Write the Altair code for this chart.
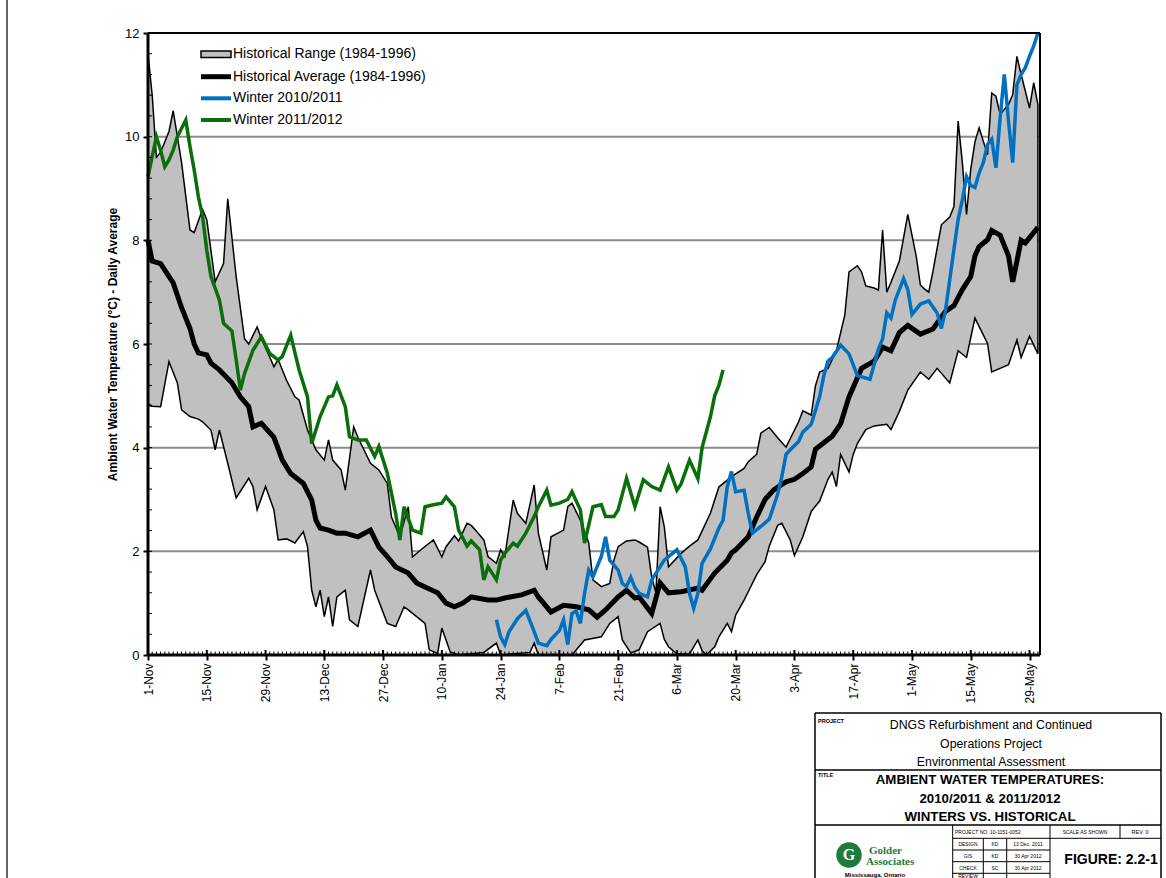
import altair as alt
import pandas as pd

# ---------------- data ----------------
# day = days after 1-Nov (leap-year season), value = deg C
MAX_DAY = [0, 1, 2, 3, 5, 6, 8, 10, 11, 13, 14, 16, 18, 19, 21, 23, 24, 26, 27, 29, 30, 31, 33, 35, 36, 38, 40, 42, 43, 44,
           46, 47, 49, 50, 53, 55, 57, 58, 60, 62, 63, 65, 68, 70, 71, 73, 74, 76, 77, 78, 80, 81, 83, 84, 85, 87, 88, 90,
           92, 93, 95, 96, 99, 100, 101, 103, 105, 106, 108, 110, 111, 112, 114, 116, 117, 119, 120, 121, 122, 123, 124,
           127, 129, 131, 134, 136, 139, 142, 143, 145, 146, 148, 150, 152, 155, 156, 158, 159, 160, 162, 164, 166, 167,
           169, 170, 171, 173, 174, 175, 176, 177, 179, 181, 183, 184, 185, 186, 187, 189, 191, 192, 193, 194, 195, 196,
           197, 198, 200, 201, 202, 203, 205, 206, 207, 208, 209, 210, 211, 212]
MAX_VAL = [11.6, 10.8, 9.6, 9.7, 10.1, 10.5, 9.5, 8.2, 8.15, 8.6, 8.4, 7.2, 7.55, 8.8, 7.3, 6.1, 6.0, 6.33, 6.1, 5.75, 5.56,
           5.7, 5.3, 4.98, 4.92, 4.34, 3.96, 3.76, 4.15, 3.76, 3.57, 3.18, 4.4, 4.2, 3.7, 3.57, 3.31, 2.66, 2.28, 2.86, 1.89,
           2.03, 2.22, 1.89, 2.09, 2.3, 2.2, 2.54, 2.5, 2.41, 2.22, 1.9, 1.77, 2.03, 1.9, 2.99, 2.73, 2.54, 3.28, 2.35, 1.64,
           2.28, 2.41, 2.86, 2.93, 2.6, 2.16, 1.45, 1.32, 1.38, 1.83, 2.09, 2.2, 2.22, 2.18, 2.08, 1.5, 1.2, 2.86, 2.47, 1.7,
           1.96, 2.1, 2.22, 2.74, 3.24, 3.44, 3.6, 3.73, 3.87, 4.28, 4.39, 4.19, 4.01, 4.5, 4.71, 4.63, 5.19, 5.46, 5.53,
           5.87, 6.56, 7.39, 7.51, 7.39, 7.12, 7.08, 7.04, 8.2, 7.0, 7.19, 7.6, 8.5, 7.7, 7.14, 7.06, 7.0, 7.4, 8.3, 8.45,
           8.65, 10.3, 9.5, 8.5, 9.37, 9.9, 10.17, 9.65, 10.84, 10.78, 10.43, 10.62, 10.81, 11.55, 11.2, 10.88, 10.55,
           11.04, 10.62]

MIN_DAY = [0, 1, 3, 5, 7, 8, 10, 12, 13, 15, 16, 17, 19, 21, 24, 25, 26, 28, 30, 31, 33, 35, 37, 38, 39, 40, 41, 42, 43, 44,
           45, 47, 48, 50, 53, 54, 57, 59, 61, 62, 66, 67, 69, 70, 72, 74, 80, 83, 84, 91, 92, 93, 101, 104, 108, 110, 112,
           113, 115, 117, 119, 122, 123, 124, 126, 129, 131, 132, 133, 135, 136, 138, 139, 140, 142, 143, 145, 147, 148,
           150, 151, 153, 154, 156, 158, 160, 162, 163, 164, 165, 167, 168, 169, 171, 173, 176, 177, 179, 181, 184, 186,
           188, 191, 193, 195, 197, 200, 201, 203, 205, 207, 208, 210, 212]
MIN_VAL = [4.85, 4.8, 4.79, 5.66, 5.25, 4.73, 4.6, 4.55, 4.5, 4.34, 3.96, 4.34, 3.7, 3.03, 3.41, 3.25, 2.8, 3.25, 2.8, 2.22,
           2.24, 2.16, 2.38, 2.09, 1.25, 0.93, 1.25, 0.74, 1.12, 0.55, 1.12, 1.25, 0.68, 0.55, 1.64, 1.25, 0.61, 0.55, 0.93,
           0.87, 0.61, 0.1, 0.03, 0.52, 0.06, 0.0, 0.05, 0.23, 0.0, 0.05, 0.23, 0.0, 0.0, 0.29, 0.35, 0.61, 0.74, 0.29, 0.04,
           0.1, 0.45, 0.61, 0.3, 0.16, 0.02, 0.02, 0.29, 0.08, 0.0, 0.16, 0.35, 0.61, 0.45, 0.77, 1.06, 1.22, 1.55, 1.8,
           2.1, 2.5, 2.54, 2.22, 1.92, 2.28, 2.77, 2.97, 3.39, 3.53, 3.25, 3.87, 3.53, 3.87, 4.08, 4.35, 4.42, 4.45, 4.35,
           4.7, 5.11, 5.46, 5.32, 5.53, 5.25, 5.87, 5.74, 6.5, 6.01, 5.46, 5.53, 5.6, 6.08, 5.74, 6.15, 5.81]

AVG_DAY = [0, 1, 3, 6, 8, 10, 11, 12, 14, 15, 17, 20, 22, 24, 25, 27, 30, 32, 34, 37, 39, 40, 41, 43, 45, 47, 50, 53, 55,
           57, 59, 62, 64, 66, 69, 71, 73, 75, 77, 81, 83, 85, 89, 92, 93, 96, 99, 102, 105, 107, 109, 112, 114, 116, 117,
           120, 122, 124, 127, 131, 132, 135, 138, 139, 140, 143, 145, 147, 149, 151, 152, 154, 156, 158, 159, 163, 165,
           167, 170, 173, 175, 177, 179, 181, 184, 187, 190, 192, 194, 196, 197, 198, 200, 201, 203, 205, 206, 208, 209,
           211, 212]
AVG_VAL = [8.0, 7.6, 7.55, 7.18, 6.7, 6.3, 6.0, 5.83, 5.79, 5.63, 5.5, 5.25, 4.98, 4.79, 4.4, 4.47, 4.2, 3.76, 3.5, 3.31,
           2.99, 2.6, 2.45, 2.41, 2.35, 2.35, 2.28, 2.41, 2.08, 1.9, 1.7, 1.58, 1.39, 1.31, 1.2, 1.0, 0.93, 1.0, 1.12, 1.06,
           1.06, 1.1, 1.16, 1.25, 1.12, 0.83, 0.96, 0.93, 0.87, 0.73, 0.87, 1.12, 1.25, 1.1, 1.12, 0.8, 1.39, 1.2, 1.22,
           1.29, 1.25, 1.58, 1.83, 1.97, 2.03, 2.28, 2.66, 3.0, 3.18, 3.29, 3.34, 3.39, 3.5, 3.63, 3.97, 4.22, 4.46, 4.98,
           5.53, 5.67, 5.94, 5.87, 6.22, 6.36, 6.19, 6.29, 6.63, 6.74, 7.05, 7.3, 7.7, 7.88, 8.01, 8.19, 8.1, 7.7, 7.2,
           8.0, 7.95, 8.15, 8.25]

W1011_DAY = [83, 84, 85, 86, 88, 90, 92, 93, 95, 96, 98, 99, 100, 101, 102, 103, 104, 105, 106, 108, 109, 110, 112, 113,
             114, 115, 116, 117, 119, 120, 123, 124, 126, 128, 129, 130, 131, 132, 134, 136, 137, 138, 139, 140, 142,
             143, 144, 146, 148, 150, 151, 152, 153, 155, 156, 158, 160, 161, 162, 163, 165, 167, 169, 172, 174, 175,
             176, 177, 178, 180, 181, 182, 184, 186, 188, 189, 190, 192, 193, 194, 195, 196, 197, 198, 199, 200, 201,
             202, 203, 204, 205, 206, 207, 208, 209, 210, 211, 212]
W1011_VAL = [0.68, 0.35, 0.2, 0.45, 0.7, 0.86, 0.45, 0.23, 0.18, 0.3, 0.47, 0.68, 0.2, 0.8, 0.85, 0.61, 1.19, 1.64, 1.51,
             1.9, 2.28, 1.83, 1.64, 1.38, 1.32, 1.5, 1.3, 1.19, 1.12, 1.45, 1.83, 1.9, 2.03, 1.7, 1.19, 0.9, 1.19, 1.77,
             2.05, 2.45, 2.6, 3.25, 3.54, 3.15, 3.18, 2.73, 2.35, 2.48, 2.62, 3.1, 3.44, 3.87, 3.96, 4.12, 4.3, 4.45,
             4.98, 5.39, 5.67, 5.74, 5.98, 5.81, 5.39, 5.32, 5.9, 6.1, 6.6, 6.5, 6.84, 7.26, 7.05, 6.57, 6.77, 6.83, 6.6,
             6.3, 6.65, 7.83, 8.4, 8.78, 9.23, 9.06, 9.02, 9.3, 9.5, 9.85, 9.95, 9.4, 10.36, 11.2, 10.3, 9.5, 11.0, 11.2,
             11.33, 11.55, 11.75, 12.0]

W1112_DAY = [0, 2, 3, 4, 5, 6, 7, 9, 10, 11, 12, 13, 14, 15, 17, 18, 20, 21, 22, 23, 25, 27, 29, 31, 32, 34, 36, 38, 39,
             41, 43, 44, 45, 47, 48, 50, 52, 54, 55, 57, 59, 60, 61, 63, 65, 66, 68, 70, 71, 73, 74, 76, 77, 79, 80, 81,
             83, 84, 85, 87, 88, 90, 92, 93, 95, 96, 98, 100, 101, 103, 104, 106, 108, 109, 111, 112, 114, 116, 118, 120,
             122, 124, 126, 127, 129, 131, 132, 134, 135, 136, 137]
W1112_VAL = [9.23, 10.0, 9.74, 9.42, 9.55, 9.74, 10.0, 10.32, 9.81, 9.36, 8.84, 8.46, 7.81, 7.3, 6.85, 6.4, 6.25, 5.7,
             5.11, 5.43, 5.88, 6.14, 5.82, 5.69, 5.76, 6.17, 5.5, 4.98, 4.08, 4.6, 4.98, 5.0, 5.21, 4.79, 4.21, 4.15, 4.15,
             3.83, 4.02, 3.51, 2.73, 2.22, 2.86, 2.41, 2.35, 2.86, 2.9, 2.93, 3.05, 2.86, 2.41, 2.1, 2.2, 2.03, 1.45, 1.7,
             1.45, 1.83, 1.96, 2.16, 2.1, 2.35, 2.67, 2.86, 3.18, 2.89, 2.93, 3.0, 3.15, 2.8, 2.16, 2.86, 2.9, 2.67, 2.67,
             2.8, 3.41, 2.86, 3.38, 3.25, 3.18, 3.63, 3.18, 3.3, 3.76, 3.4, 4.0, 4.6, 5.0, 5.2, 5.5]

TICK_DAYS = [0, 14, 28, 42, 56, 70, 84, 98, 112, 126, 140, 154, 168, 182, 196, 210]
TICK_LABELS = ["1-Nov", "15-Nov", "29-Nov", "13-Dec", "27-Dec", "10-Jan", "24-Jan", "7-Feb", "21-Feb", "6-Mar",
               "20-Mar", "3-Apr", "17-Apr", "1-May", "15-May", "29-May"]
Y_TICKS = [0, 2, 4, 6, 8, 10, 12]
GRID_Y = [2, 4, 6, 8, 10]
MINOR_X = list(range(0, 213))
MINOR_Y = [round(i * 0.4, 1) for i in range(1, 30)]

LEGEND = ["Historical Range (1984-1996)", "Historical Average (1984-1996)", "Winter 2010/2011", "Winter 2011/2012"]
Y_TITLE = "Ambient Water Temperature (°C) - Daily Average"

# ---------------- layout ----------------
W, H = 892, 622
OX, OY = 148, 33
FONT = "Liberation Sans"
BLUE = "#0070C0"
GREEN = "#0A6E0A"
SILVER = "#C0C0C0"

xs = alt.Scale(domain=[0, 212.5], nice=False, zero=False)
ys = alt.Scale(domain=[0, 12], nice=False, zero=False)

label_expr = "''"
for d, s in reversed(list(zip(TICK_DAYS, TICK_LABELS))):
    label_expr = f"datum.value == {d} ? '{s}' : ({label_expr})"

x_axis = alt.Axis(values=TICK_DAYS, labelExpr=label_expr, labelAngle=270, labelFontSize=12, labelFont=FONT,
                  labelColor="black", labelPadding=3, tickSize=5, tickWidth=2, tickColor="black",
                  domain=False, grid=False, title=None, zindex=1, labelOverlap=False)
y_axis = alt.Axis(values=Y_TICKS, labelFontSize=13, labelFont=FONT, labelColor="black", labelPadding=4,
                  tickSize=5, tickWidth=2, tickColor="black", domain=False, grid=False,
                  title=Y_TITLE, titleFont=FONT, titleFontSize=12, titleFontWeight="bold", titleColor="black",
                  titleX=-36, titleY=H / 2, titleAngle=270, titleAlign="center", titleBaseline="middle", zindex=1)

one = pd.DataFrame({"k": [0]})

band = pd.DataFrame({"day": MAX_DAY + MIN_DAY[::-1], "val": MAX_VAL + MIN_VAL[::-1]})
band["idx"] = range(len(band))


def series(days, vals):
    return pd.DataFrame({"day": days, "val": vals})


def X():
    return alt.X("day:Q", scale=xs, axis=x_axis)


def Y():
    return alt.Y("val:Q", scale=ys, axis=y_axis)


layers = []
# grid lines (behind everything)
layers.append(alt.Chart(pd.DataFrame({"val": GRID_Y})).mark_rule(color="#8C8C8C", strokeWidth=2)
              .encode(y=Y()))
# historical range band (polygon: max forward, min backward)
layers.append(alt.Chart(band).mark_line(fill=SILVER, stroke="black", strokeWidth=1.5, strokeJoin="miter")
              .encode(x=X(), y=Y(), order="idx:Q"))
# average
layers.append(alt.Chart(series(AVG_DAY, AVG_VAL)).mark_line(color="black", strokeWidth=5)
              .encode(x=X(), y=Y()))
# winters
layers.append(alt.Chart(series(W1011_DAY, W1011_VAL)).mark_line(color=BLUE, strokeWidth=3.5)
              .encode(x=X(), y=Y()))
layers.append(alt.Chart(series(W1112_DAY, W1112_VAL)).mark_line(color=GREEN, strokeWidth=3.5)
              .encode(x=X(), y=Y()))

# inner ticks
layers.append(alt.Chart(pd.DataFrame({"day": MINOR_X})).mark_rule(color="black", strokeWidth=1)
              .encode(x=X(), y=alt.value(H - 3.5), y2=alt.value(H)))
layers.append(alt.Chart(pd.DataFrame({"day": TICK_DAYS})).mark_rule(color="black", strokeWidth=2)
              .encode(x=X(), y=alt.value(H - 5), y2=alt.value(H)))
layers.append(alt.Chart(pd.DataFrame({"val": MINOR_Y})).mark_rule(color="black", strokeWidth=1)
              .encode(y=Y(), x=alt.value(0), x2=alt.value(4)))


def rule(x1, y1, x2, y2, w=1.0, color="black"):
    enc = dict(x=alt.value(x1 - OX), y=alt.value(y1 - OY))
    if x2 != x1:
        enc["x2"] = alt.value(x2 - OX)
    if y2 != y1:
        enc["y2"] = alt.value(y2 - OY)
    return alt.Chart(one).mark_rule(color=color, strokeWidth=w).encode(**enc)


def text(x, y, s, size=12, weight="normal", align="center", color="black", font=FONT):
    return (alt.Chart(one).mark_text(text=s, fontSize=size, fontWeight=weight, align=align, baseline="middle",
                                     color=color, font=font)
            .encode(x=alt.value(x - OX), y=alt.value(y - OY)))


# plot frame
layers.append(rule(OX, OY, OX, OY + H, 3))
layers.append(rule(OX, OY + H, OX + W, OY + H, 3))
layers.append(rule(OX, OY, OX + W, OY, 2))
layers.append(rule(OX + W, OY, OX + W, OY + H, 2))

# legend (inside the plot, top-left)
layers.append(alt.Chart(one).mark_rect(fill=SILVER, stroke="black", strokeWidth=1.5)
              .encode(x=alt.value(201 - OX), x2=alt.value(231 - OX), y=alt.value(51 - OY), y2=alt.value(57.5 - OY)))
layers.append(rule(201, 76.7, 231, 76.7, 5, "black"))
layers.append(rule(201, 98.3, 231, 98.3, 4, BLUE))
layers.append(rule(201, 120, 231, 120, 4, GREEN))
for yy, s in zip([54.3, 76.7, 98.3, 120], LEGEND):
    layers.append(text(233, yy, s, size=14, align="left"))

# page border at far left
layers.append(rule(7, 0, 7, 878, 1.2))

# ---------------- title block ----------------
L, R, T = 815, 1161, 713
layers += [
    rule(L, T, R, T, 1.5), rule(L, T, L, 880, 1.5), rule(R, T, R, 880, 1.5),
    rule(L, 770, R, 770, 1.5), rule(L, 825, R, 825, 1.5),
    rule(952.7, 825, 952.7, 880, 1), rule(952.7, 838.3, R, 838.3, 1),
    rule(1050, 825, 1050, 880, 1), rule(1120, 825, 1120, 838.3, 1),
    rule(952.7, 850, 1050, 850, 1), rule(952.7, 861.7, 1050, 861.7, 1), rule(952.7, 873.3, 1050, 873.3, 1),
    rule(983.3, 838.3, 983.3, 880, 1), rule(1006.7, 838.3, 1006.7, 880, 1),
]
layers += [
    text(818, 720.5, "PROJECT", size=5.5, weight="bold", align="left"),
    text(991, 725, "DNGS Refurbishment and Continued", size=12.3),
    text(991, 743.5, "Operations Project", size=12.3),
    text(991, 762, "Environmental Assessment", size=12.3),
    text(818, 774.5, "TITLE", size=5.5, weight="bold", align="left"),
    text(990, 780, "AMBIENT WATER TEMPERATURES:", size=13.3, weight="bold"),
    text(990, 798.5, "2010/2011 & 2011/2012", size=13.3, weight="bold"),
    text(990, 817, "WINTERS VS. HISTORICAL", size=13.3, weight="bold"),
    text(955, 831.5, "PROJECT NO. 10-1151-0052", size=5, align="left"),
    text(1085, 831.5, "SCALE AS SHOWN", size=5),
    text(1140, 831.5, "REV. 0", size=5.5),
    text(968, 844, "DESIGN", size=5), text(968, 856, "GIS", size=5),
    text(968, 867.5, "CHECK", size=5), text(968, 876, "REVIEW", size=5),
    text(995, 844, "KD", size=5), text(995, 856, "KD", size=5), text(995, 867.5, "SC", size=5),
    text(1028, 844, "13 Dec. 2011", size=5), text(1028, 856, "30 Apr 2012", size=5),
    text(1028, 867.5, "30 Apr 2012", size=5),
    text(1111, 860, "FIGURE: 2.2-1", size=14, weight="bold"),
    text(869, 851, "Golder", size=11, weight="bold", align="left", color="#1E7B3C", font="Liberation Serif"),
    text(866, 862, "Associates", size=11, weight="bold", align="left", color="#1E7B3C", font="Liberation Serif"),
    text(875, 874.5, "Mississauga, Ontario", size=6, weight="bold"),
]
layers.append(alt.Chart(one).mark_point(shape="circle", filled=True, size=650, color="#1E7B3C", opacity=1)
              .encode(x=alt.value(849 - OX), y=alt.value(855 - OY)))
layers.append(text(849, 855, "G", size=16, weight="bold", color="white", font="Liberation Serif"))

chart = (alt.layer(*layers)
         .properties(width=W, height=H,
                     padding={"left": OX, "top": OY, "right": 1166 - OX - W, "bottom": 878 - OY - H},
                     autosize=alt.AutoSizeParams(type="none"))
         .configure_view(stroke=None)
         .configure(background="white"))

chart.save("out.html", embed_options={"renderer": "svg", "actions": False})
